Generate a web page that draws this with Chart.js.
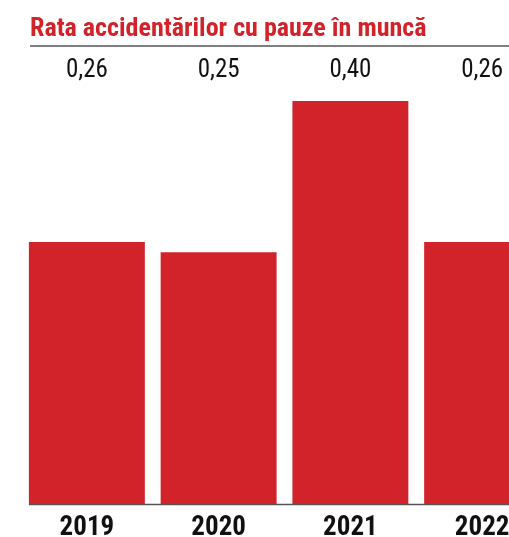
<!DOCTYPE html>
<html>
<head>
<meta charset="utf-8">
<script src="https://cdn.jsdelivr.net/npm/chart.js@4"></script>
<style>
  body { margin: 0; background: #fff; }
  #wrap { width: 509px; height: 537px; overflow: hidden; position: relative; }
  canvas { position: absolute; left: 0; top: 0; }
</style>
</head>
<body>
<div id="wrap"><canvas id="chart" width="548" height="537"></canvas></div>
<script>
const titleText = 'Rata accidentărilor cu pauze în muncă';
const years = ['2019', '2020', '2021', '2022'];
const rates = [0.26, 0.25, 0.40, 0.26];

const red = '#d2232b';
const fontFam = '"Roboto Condensed", "DejaVu Sans Condensed", sans-serif';

const decor = {
    id: 'decor',
    afterDraw(chart) {
        const ctx = chart.ctx;
        ctx.save();
        // title
        ctx.fillStyle = red;
        ctx.font = 'bold 26px ' + fontFam;
        ctx.textAlign = 'left';
        ctx.textBaseline = 'alphabetic';
        ctx.fillText(titleText, 30, 36);
        // line under title
        ctx.strokeStyle = '#555';
        ctx.lineWidth = 1.5;
        ctx.beginPath();
        ctx.moveTo(30, 46);
        ctx.lineTo(chart.width, 46);
        ctx.stroke();
        // values row
        const meta = chart.getDatasetMeta(0);
        ctx.fillStyle = '#111';
        ctx.font = '25px ' + fontFam;
        ctx.textAlign = 'center';
        meta.data.forEach((bar, i) => {
            ctx.fillText(rates[i].toFixed(2).replace('.', ','), bar.x, 77);
        });
        // baseline
        const y0 = chart.scales.y.getPixelForValue(0);
        ctx.beginPath();
        ctx.moveTo(meta.data[0].x - meta.data[0].width / 2, y0 + 0.5);
        ctx.lineTo(chart.width, y0 + 0.5);
        ctx.stroke();
        ctx.restore();
    }
};

new Chart(document.getElementById('chart'), {
    type: 'bar',
    data: {
        labels: years,
        datasets: [{
            data: rates,
            backgroundColor: red,
            barPercentage: 0.88,
            categoryPercentage: 1
        }]
    },
    options: {
        responsive: false,
        animation: false,
        layout: { padding: { top: 101, left: 21, right: 0, bottom: 0 } },
        plugins: {
            legend: { display: false },
            tooltip: { enabled: false }
        },
        scales: {
            y: { display: false, min: 0, max: 0.40 },
            x: {
                grid: { display: false, drawTicks: false },
                border: { display: false },
                ticks: {
                    color: '#111',
                    padding: 8,
                    font: { family: fontFam, size: 27, weight: 'bold' }
                },
                afterFit(scale) { scale.height = 33; }
            }
        }
    },
    plugins: [decor]
});
</script>
</body>
</html>
